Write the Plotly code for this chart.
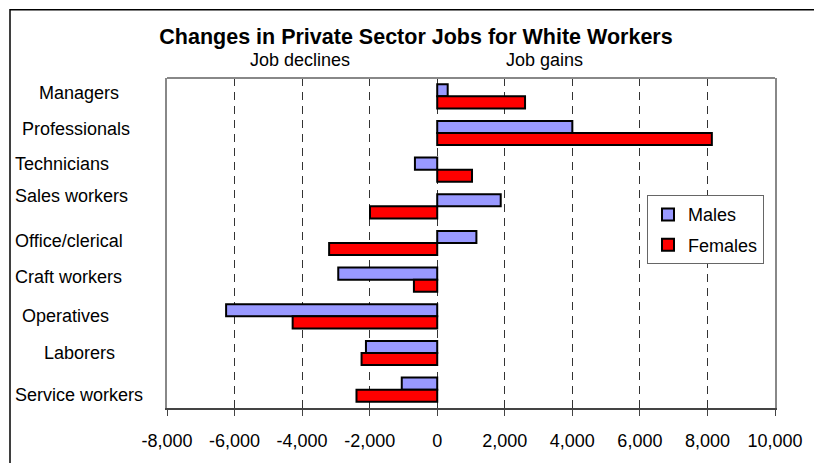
import plotly.graph_objects as go

categories = ["Managers", "Professionals", "Technicians", "Sales workers",
              "Office/clerical", "Craft workers", "Operatives", "Laborers",
              "Service workers"]
males = [310, 4000, -660, 1880, 1160, -2930, -6250, -2110, -1050]
females = [2600, 8130, 1030, -1990, -3200, -690, -4280, -2240, -2390]
tick_vals = [-8000, -6000, -4000, -2000, 0, 2000, 4000, 6000, 8000, 10000]
tick_text = ["-8,000", "-6,000", "-4,000", "-2,000", "0", "2,000", "4,000",
             "6,000", "8,000", "10,000"]
title_text = "Changes in Private Sector Jobs for White Workers"

# page body has an 8px margin, so figure is sized to fit the window
OFF = 8
W, H = 814, 455
L, R, T, B = 159, 47, 70, 50
PW, PH = W - L - R, H - T - B

def px_x(p):  # screen pixel -> paper x
    return (p - OFF - L) / PW

def px_y(p):  # screen pixel -> paper y
    return (H - B - (p - OFF)) / PH

FONT = "Liberation Sans, Arial, sans-serif"
FS = 18

fig = go.Figure()
fig.add_trace(go.Bar(y=categories, x=males, name="Males", orientation="h",
                     legendgroup="m",
                     marker=dict(color="#9999FF", line=dict(color="black", width=2))))
fig.add_trace(go.Bar(y=categories, x=females, name="Females", orientation="h",
                     legendgroup="f",
                     marker=dict(color="#FF0000", line=dict(color="black", width=2))))

# category label placement (style): screen pixel x, anchor, vertical shift
label_style = [(78.5, "center", 3), (76, "center", 4), (13, "left", 6),
               (13, "left", 10), (13, "left", 2), (13, "left", 3),
               (20, "left", 0), (42, "left", 0), (13, "left", -5)]
annotations = []
for cat, (lx, anc, ys) in zip(categories, label_style):
    annotations.append(dict(x=px_x(lx), xref="paper", y=cat, yref="y",
                            text=cat, showarrow=False, xanchor=anc,
                            yanchor="middle", yshift=ys,
                            font=dict(size=FS, color="black", family=FONT)))
annotations.append(dict(x=px_x(300), xref="paper", y=px_y(60), yref="paper",
                        text="Job declines", showarrow=False, xanchor="center",
                        yanchor="middle", font=dict(size=FS, color="black", family=FONT)))
annotations.append(dict(x=px_x(544), xref="paper", y=px_y(60), yref="paper",
                        text="Job gains", showarrow=False, xanchor="center",
                        yanchor="middle", font=dict(size=FS, color="black", family=FONT)))

shapes = [
    dict(type="rect", xref="paper", yref="paper", x0=px_x(10), x1=px_x(900),
         y0=px_y(520), y1=px_y(8.75), line=dict(color="black", width=1.5),
         fillcolor="rgba(0,0,0,0)", layer="below"),
    dict(type="line", xref="paper", yref="paper", x0=0, x1=1, y0=1, y1=1,
         line=dict(color="#888888", width=2)),
]

fig.update_layout(
    width=W, height=H,
    margin=dict(l=L, r=R, t=T, b=B, pad=0),
    paper_bgcolor="white", plot_bgcolor="white",
    font=dict(family=FONT, size=FS, color="black"),
    title=dict(text="<b>" + title_text + "</b>", x=(416 - OFF) / W, xref="container",
               xanchor="center", y=1 - (36 - OFF) / H, yref="container", yanchor="middle",
               font=dict(size=21.5, color="black", family=FONT)),
    barmode="group", bargap=0.34, bargroupgap=0,
    showlegend=True,
    legend=dict(x=px_x(647), y=px_y(197), xanchor="left", yanchor="top",
                bgcolor="white", bordercolor="#666666", borderwidth=1,
                font=dict(size=FS, color="black", family=FONT),
                traceorder="grouped", tracegroupgap=4, itemwidth=30),
    xaxis=dict(range=[-8000, 10000], tickvals=tick_vals, ticktext=tick_text,
               showgrid=True, gridcolor="#333333", gridwidth=1, griddash="8px,6px",
               zeroline=False, showline=True, linecolor="#444444", linewidth=2,
               ticks="outside", ticklen=6, tickcolor="#444444", tickwidth=1,
               ticklabelstandoff=9, tickfont=dict(size=FS, color="black")),
    yaxis=dict(autorange="reversed", showticklabels=False, showgrid=False,
               zeroline=False, showline=True, linecolor="#888888", linewidth=2,
               mirror=True, ticks=""),
    annotations=annotations,
    shapes=shapes,
)

fig.write_html("out.html")
